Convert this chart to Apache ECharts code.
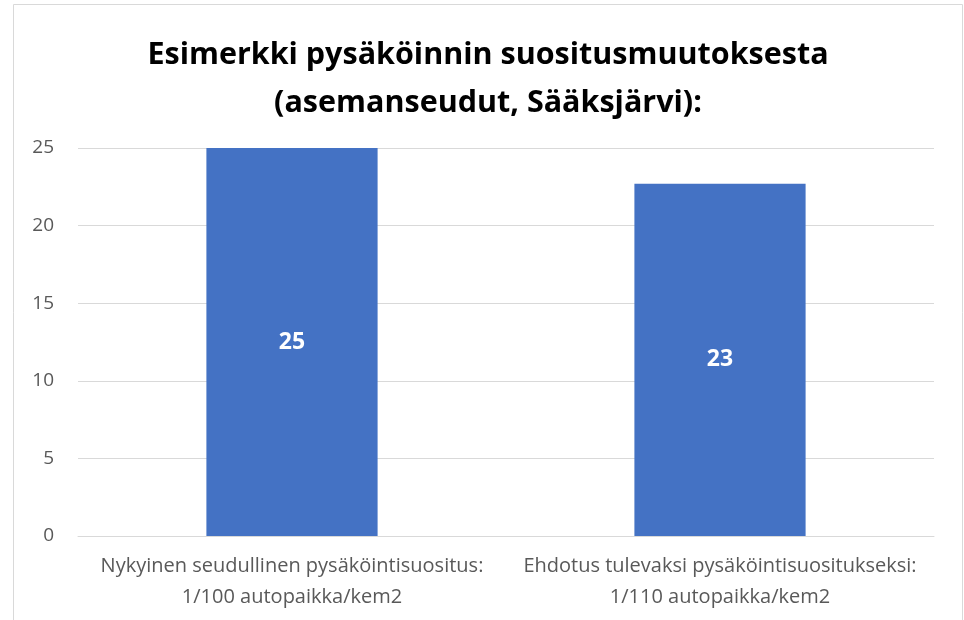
<!DOCTYPE html>
<html>
<head>
<meta charset="utf-8">
<script src="https://cdn.jsdelivr.net/npm/echarts@6/dist/echarts.min.js"></script>
<style>
  html, body { margin: 0; padding: 0; background: #fff; }
  #chart { width: 964px; height: 620px; }
</style>
</head>
<body>
<div id="chart"></div>
<script>
// kategoriat ja arvot
var categories = [
    "Nykyinen seudullinen pysäköintisuositus:\n1/100 autopaikka/kem2",
    "Ehdotus tulevaksi pysäköintisuositukseksi:\n1/110 autopaikka/kem2"
];
var values = [25, 22.7];
var yTicks = [0, 5, 10, 15, 20, 25];

var chart = echarts.init(document.getElementById("chart"));
chart.setOption({
    animation: false,
    textStyle: { fontFamily: "Open Sans" },
    title: {
        text: "Esimerkki pysäköinnin suositusmuutoksesta\n(asemanseudut, Sääksjärvi):",
        left: 483,
        textAlign: "center",
        top: 26,
        textStyle: { fontSize: 30.5, fontWeight: "bold", color: "#000", lineHeight: 48, fontFamily: "Open Sans" }
    },
    // kaavion reunus
    graphic: [{
        type: "rect",
        shape: { x: 13.5, y: 4.5, width: 949, height: 640 },
        style: { fill: "none", stroke: "#d9d9d9", lineWidth: 1 },
        silent: true
    }],
    grid: { left: 78, right: 30, top: 148, bottom: 84 },
    xAxis: {
        type: "category",
        data: categories,
        axisLine: { lineStyle: { color: "#d9d9d9", width: 1 } },
        axisTick: { show: false },
        axisLabel: { color: "#595959", fontSize: 20, lineHeight: 31, margin: 15, interval: 0 }
    },
    yAxis: {
        type: "value",
        min: yTicks[0],
        max: yTicks[yTicks.length - 1],
        interval: 5,
        axisLine: { show: false },
        axisTick: { show: false },
        splitLine: { lineStyle: { color: "#d9d9d9", width: 1 } },
        axisLabel: { color: "#595959", fontSize: 19, margin: 24, align: "right" }
    },
    series: [{
        type: "bar",
        data: values,
        barWidth: "40%",
        itemStyle: { color: "#4472C4" },
        label: {
            show: true,
            position: "inside",
            color: "#fff",
            fontWeight: "bold",
            fontSize: 23,
            formatter: function (p) { return Math.round(p.value); }
        }
    }]
});
</script>
</body>
</html>
